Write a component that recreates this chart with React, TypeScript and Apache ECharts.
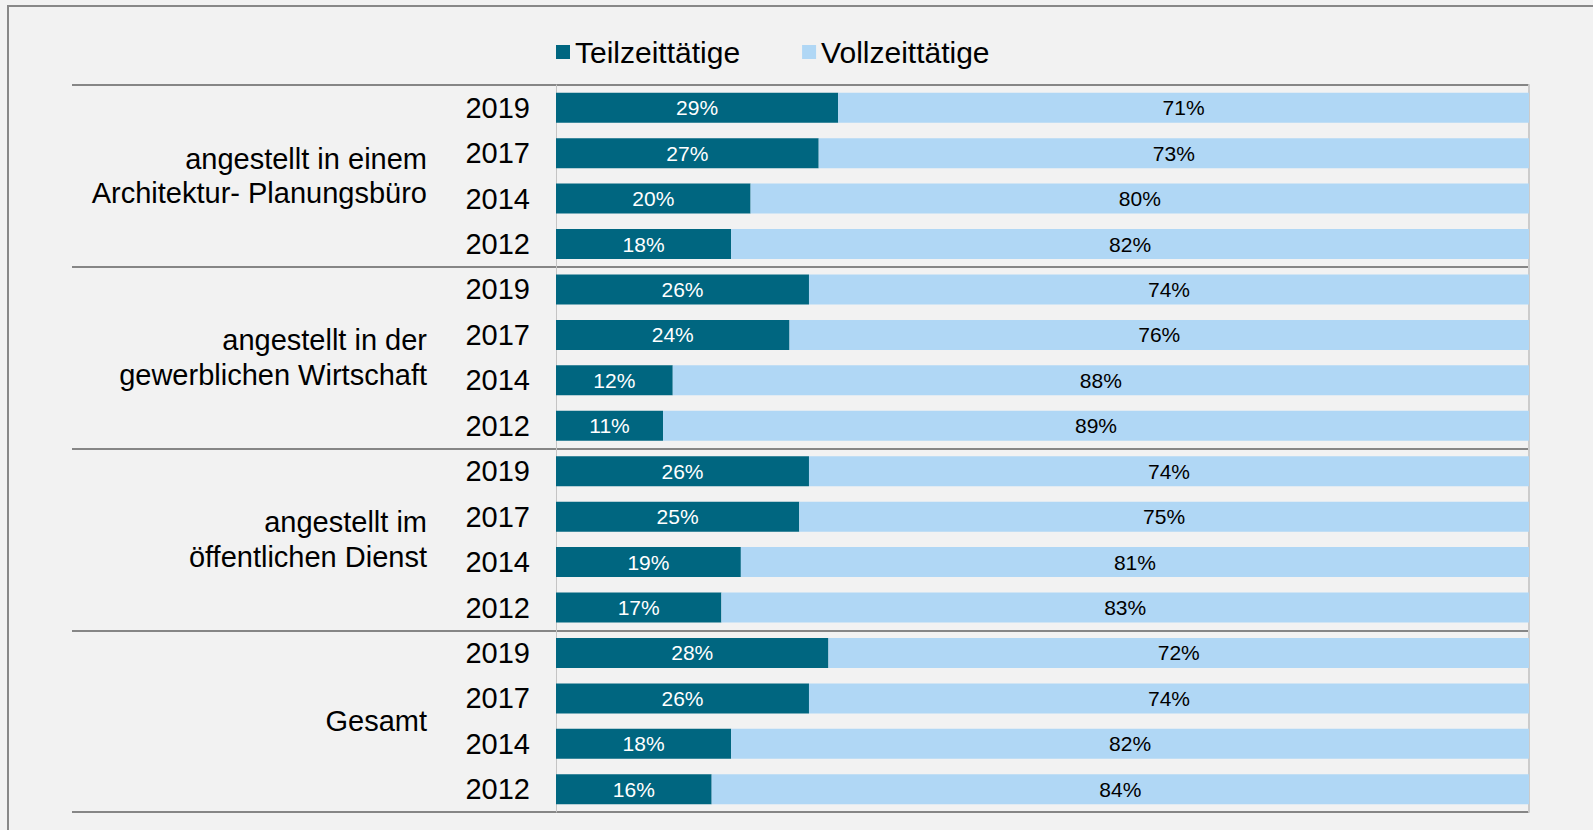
import React, { useEffect, useRef } from "react";
import * as echarts from "echarts";

const years = ["2019", "2017", "2014", "2012"];
const groups = [
  "angestellt in einem\nArchitektur- Planungsbüro",
  "angestellt in der\ngewerblichen Wirtschaft",
  "angestellt im\nöffentlichen Dienst",
  "Gesamt",
];
const teilzeit = [29, 27, 20, 18, 26, 24, 12, 11, 26, 25, 19, 17, 28, 26, 18, 16];
const vollzeit = [71, 73, 80, 82, 74, 76, 88, 89, 74, 75, 81, 83, 72, 74, 82, 84];
const seriesNames = ["Teilzeittätige", "Vollzeittätige"];

const FONT = "'Liberation Sans', Arial, Helvetica, sans-serif";

export default function App() {
  const ref = useRef<HTMLDivElement>(null);
  useEffect(() => {
    if (!ref.current) return;
    const chart = echarts.init(ref.current, undefined, { renderer: "svg" });
    const yearCats: string[] = [];
    groups.forEach(() => years.forEach((y) => yearCats.push(y)));
    chart.setOption({
      animation: false,
      backgroundColor: "#f2f2f2",
      textStyle: { fontFamily: FONT },
      graphic: [
        {
          type: "rect",
          shape: { x: 8, y: 6, width: 1700, height: 1000 },
          style: { fill: "none", stroke: "#888888", lineWidth: 2 },
          silent: true,
          z: -1,
        },
      ],
      legend: {
        data: seriesNames,
        left: 556,
        top: 37,
        padding: 0,
        icon: "rect",
        itemWidth: 14,
        itemHeight: 14,
        itemGap: 62,
        textStyle: { fontSize: 30, color: "#000", fontFamily: FONT },
      },
      grid: { left: 556, right: 64, top: 85, bottom: 18, containLabel: false },
      xAxis: { type: "value", min: 0, max: 100, show: false },
      yAxis: [
        {
          type: "category",
          data: yearCats,
          inverse: true,
          position: "left",
          axisLine: { show: true, lineStyle: { color: "#c4c4c4", width: 1 } },
          axisTick: { show: false },
          axisLabel: { interval: 0, margin: 26, fontSize: 29, color: "#000", fontFamily: FONT },
          splitLine: { show: false },
        },
        {
          type: "category",
          data: groups,
          inverse: true,
          position: "left",
          axisLine: { show: false },
          axisTick: { show: true, interval: 0, length: 484, lineStyle: { color: "#868686", width: 2 } },
          axisLabel: {
            interval: 0,
            margin: 129,
            fontSize: 29,
            lineHeight: 34.5,
            color: "#000",
            align: "right",
            fontFamily: FONT,
          },
          splitLine: { show: true, interval: 0, lineStyle: { color: "#868686", width: 2 } },
        },
        {
          type: "category",
          data: groups,
          inverse: true,
          position: "right",
          axisLine: { show: true, lineStyle: { color: "#cccccc", width: 2 } },
          axisTick: { show: false },
          axisLabel: { show: false },
          splitLine: { show: false },
        },
      ],
      series: [
        {
          name: seriesNames[0],
          type: "bar",
          stack: "total",
          yAxisIndex: 0,
          data: teilzeit,
          barWidth: "66%",
          itemStyle: { color: "#006680" },
          label: {
            show: true,
            position: "inside",
            formatter: "{c}%",
            fontSize: 21,
            color: "#ffffff",
            fontFamily: FONT,
          },
        },
        {
          name: seriesNames[1],
          type: "bar",
          stack: "total",
          yAxisIndex: 0,
          data: vollzeit,
          barWidth: "66%",
          itemStyle: { color: "#b0d7f5" },
          label: {
            show: true,
            position: "inside",
            formatter: "{c}%",
            fontSize: 21,
            color: "#000000",
            fontFamily: FONT,
          },
        },
      ],
    });
    return () => chart.dispose();
  }, []);
  return (
    <div
      ref={ref}
      style={{ position: "fixed", left: 0, top: 0, width: 1593, height: 830, background: "#f2f2f2" }}
    />
  );
}
